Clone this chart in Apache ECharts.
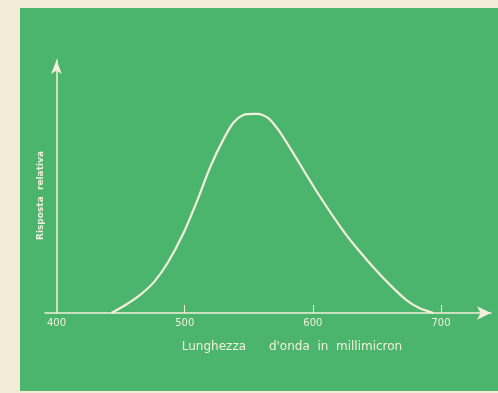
<!DOCTYPE html>
<html>
<head>
<meta charset="utf-8">
<script src="https://cdn.jsdelivr.net/npm/echarts@6/dist/echarts.min.js"></script>
<style>
  html, body { margin: 0; padding: 0; background: #f3ecd8; }
  #chart { width: 498px; height: 393px; }
</style>
</head>
<body>
<div id="chart"></div>
<script>
// wavelength in millimicron (nm) and relative response
const wavelengths = [443, 455, 466, 476, 487, 499, 510, 520, 530, 538, 546, 554, 557, 565, 573, 583, 604, 624, 637, 650, 662, 673, 683, 694]
const response = [0, 4.5, 9.5, 15.5, 25.5, 40, 56.8, 73.4, 86.9, 95.5, 99.5, 100, 100, 98, 92, 82, 60, 41, 30.5, 21, 13, 6.5, 2.5, 0]
const tickValues = [500, 600, 700]
const labelValues = [400, 500, 600, 700]
const xTitle = 'Lunghezza      d\'onda  in  millimicron'
const yTitle = 'Risposta  relativa'

const ink = '#f3efdc'
const chart = echarts.init(document.getElementById('chart'))

chart.setOption({
  animation: false,
  backgroundColor: '#f3ecd8',
  graphic: [
    {
      type: 'rect',
      z: -10,
      shape: { x: 20, y: 8, width: 478, height: 383 },
      style: { fill: '#4cb56d' },
    },
  ],
  grid: { left: 45, right: 7, top: 60, bottom: 80 },
  xAxis: {
    type: 'value',
    min: 391,
    max: 739,
    axisLine: {
      lineStyle: { color: ink, width: 1.5 },
      symbol: ['none', 'arrow'],
      symbolSize: [10, 14],
    },
    axisTick: {
      inside: true,
      length: 8,
      customValues: tickValues,
      lineStyle: { color: ink, width: 1 },
    },
    axisLabel: {
      customValues: labelValues,
      color: ink,
      fontFamily: 'DejaVu Sans',
      fontSize: 10,
      margin: 5,
    },
    splitLine: { show: false },
    name: xTitle,
    nameLocation: 'middle',
    nameGap: 28,
    nameTextStyle: {
      color: ink,
      fontFamily: 'DejaVu Sans',
      fontSize: 12,
      padding: [0, 0, 0, 48],
    },
  },
  yAxis: {
    type: 'value',
    min: 0,
    max: 127,
    offset: -11.5,
    axisLine: {
      show: true,
      lineStyle: { color: ink, width: 1.5 },
      symbol: ['none', 'arrow'],
      symbolSize: [8, 14],
    },
    axisTick: { show: false },
    axisLabel: { show: false },
    splitLine: { show: false },
    name: yTitle,
    nameLocation: 'middle',
    nameRotate: 90,
    nameGap: 11,
    nameTextStyle: {
      color: ink,
      fontFamily: 'DejaVu Sans',
      fontSize: 9,
      fontWeight: 'bold',
      padding: [0, 18, 0, 0],
    },
  },
  series: [
    {
      type: 'line',
      smooth: 0.25,
      showSymbol: false,
      lineStyle: { color: ink, width: 2.2 },
      data: wavelengths.map((w, i) => [w, response[i]]),
    },
  ],
})
</script>
</body>
</html>
